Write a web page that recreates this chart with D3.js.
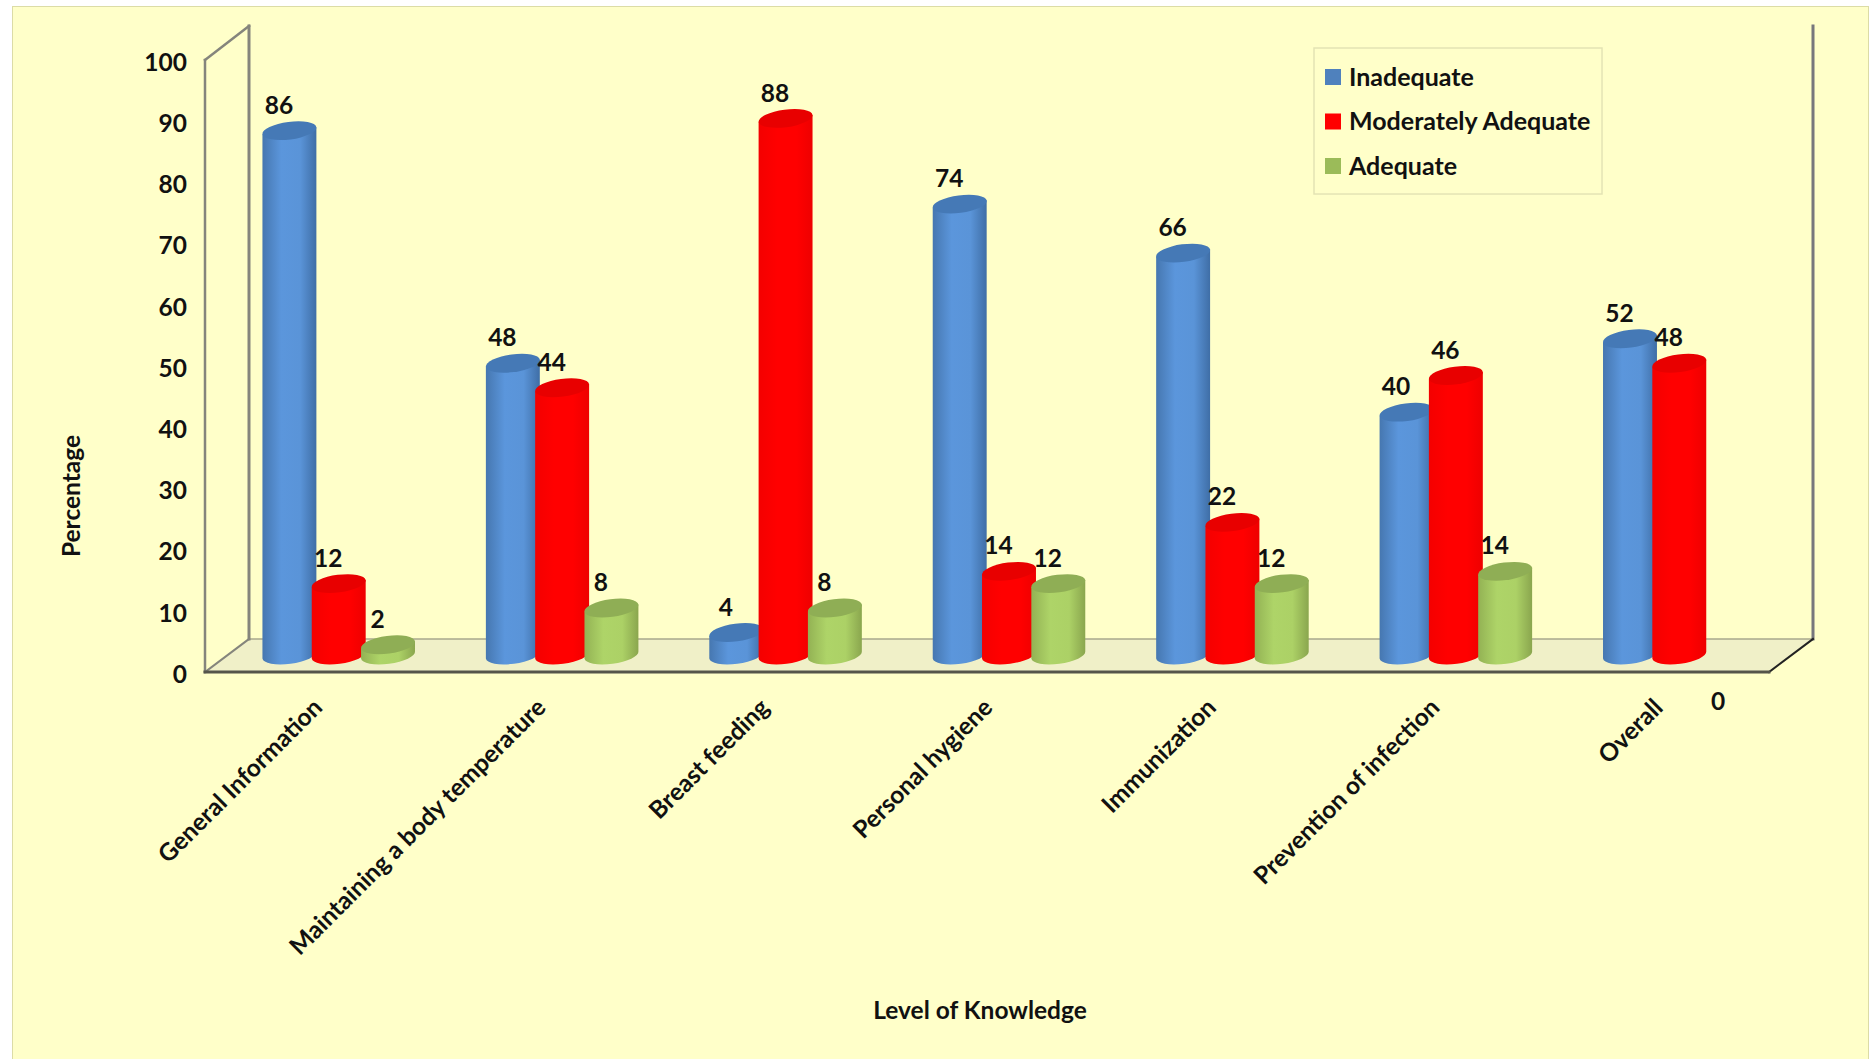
<!DOCTYPE html>
<html>
<head>
<meta charset="utf-8">
<script src="https://cdn.jsdelivr.net/npm/d3@7"></script>
<style>
  html, body { margin: 0; padding: 0; background: #fff; }
  svg { display: block; }
  text { font-family: Lato, "Open Sans", sans-serif; font-weight: 700; fill: #111; }
</style>
</head>
<body>
<svg id="chart" width="1876" height="1059"></svg>
<script>
// Knowledge level by topic, in percent
const categories = ["General Information", "Maintaining a body temperature", "Breast feeding",
                    "Personal hygiene", "Immunization", "Prevention of infection", "Overall"];
const seriesNames = ["Inadequate", "Moderately Adequate", "Adequate"];
const inadequate = [86, 48, 4, 74, 66, 40, 52];
const moderatelyAdequate = [12, 44, 88, 14, 22, 46, 48];
const adequate = [2, 8, 8, 12, 12, 14, null];
const yTicks = [0, 10, 20, 30, 40, 50, 60, 70, 80, 90, 100];
const strayLabel = "0";

const seriesValues = [inadequate, moderatelyAdequate, adequate];
const palette = [
  { id: "sideBlue",  stops: ["#4677b0", "#5b96dc", "#5a94d8", "#3f6ea6"], top: "#4579b6", key: "#4f81bd" },
  { id: "sideRed",   stops: ["#f40000", "#ff0000", "#ff0000", "#ee0000"], top: "#e80000", key: "#ff0000" },
  { id: "sideGreen", stops: ["#93b254", "#aed468", "#acd166", "#8aa64e"], top: "#8fae55", key: "#9bbb59" }
];

const svg = d3.select("#chart");

// Chart frame: a front plane and a back plane offset by the 3D depth
const front = { left: 205, right: 1769, top: 60, bottom: 672 };
const depth = { x: 44, y: 33 };
const barShift = { x: 22, top: 15, base: 17 };
const cyl = { rx: 27.2, ry: 8.8, tilt: 7.5, gap: 49.3 };
const fontSize = 24.5;

const x = d3.scaleBand().domain(categories).range([front.left, front.right]);
const y = d3.scaleLinear().domain([0, 100]).range([front.bottom, front.top]);

const defs = svg.append("defs");
palette.forEach(p => {
  const g = defs.append("linearGradient").attr("id", p.id);
  [0, 0.35, 0.7, 1].forEach((o, i) =>
    g.append("stop").attr("offset", o).attr("stop-color", p.stops[i]));
});

// Panel
svg.append("rect").attr("x", 12.5).attr("y", 6.5).attr("width", 1856).attr("height", 1060)
  .attr("fill", "#ffffc9").attr("stroke", "#dcdca6").attr("stroke-width", 1);

// Floor
const backL = front.left + depth.x, backR = front.right + depth.x;
const backB = front.bottom - depth.y, backT = front.top - depth.y - 1;
svg.append("polygon")
  .attr("points", [[front.left, front.bottom], [backL, backB], [backR, backB], [front.right, front.bottom]].join(" "))
  .attr("fill", "#f0f0c8");

const line = (x1, y1, x2, y2, color, w) =>
  svg.append("line").attr("x1", x1).attr("y1", y1).attr("x2", x2).attr("y2", y2)
    .attr("stroke", color).attr("stroke-width", w).attr("stroke-linecap", "square");

line(backL, backB, backR, backB, "#a8a88c", 1.5);
line(front.left, front.top, front.left, front.bottom, "#85857c", 2.5);
line(backL, backT, backL, backB, "#85857c", 3);
line(front.left, front.top, backL, backT, "#85857c", 2.5);
line(front.left, front.bottom, backL, backB, "#85857c", 2);
line(backR, backT, backR, backB, "#77777c", 3);
line(front.right, front.bottom, backR, backB, "#222", 2);
line(front.left, front.bottom, front.right, front.bottom, "#55554a", 3);

// Cylinders, drawn left to right so each one sits over its neighbour
const rad = cyl.tilt * Math.PI / 180;
const dx = cyl.rx * Math.cos(rad), dy = cyl.rx * Math.sin(rad);
const barCx = (cat, s) => x(cat) + x.bandwidth() / 2 + barShift.x + (s - 1) * cyl.gap;
const barTop = v => y(v) - barShift.top;

const bars = svg.append("g");
categories.forEach((cat, c) => {
  seriesValues.forEach((vals, s) => {
    const v = vals[c];
    if (v === null) return;
    const cx = barCx(cat, s), t = barTop(v), b = y(0) - barShift.base;
    bars.append("path")
      .attr("d", `M${cx - dx},${t + dy} L${cx - dx},${b + dy} ` +
                 `A${cyl.rx},${cyl.ry} ${-cyl.tilt} 0 0 ${cx + dx},${b - dy} L${cx + dx},${t - dy} Z`)
      .attr("fill", `url(#${palette[s].id})`);
    bars.append("ellipse")
      .attr("rx", cyl.rx).attr("ry", cyl.ry)
      .attr("transform", `translate(${cx},${t}) rotate(${-cyl.tilt})`)
      .attr("fill", palette[s].top);
  });
});

// Value labels
const labels = svg.append("g").attr("font-size", fontSize).attr("text-anchor", "middle");
categories.forEach((cat, c) => {
  seriesValues.forEach((vals, s) => {
    const v = vals[c];
    if (v === null) return;
    labels.append("text")
      .attr("x", barCx(cat, s) - 10.5)
      .attr("y", barTop(v) - 25.5)
      .attr("dy", "0.35em")
      .text(v);
  });
});

// Axes
const yAxis = svg.append("g").attr("transform", `translate(${front.left},0)`)
  .call(d3.axisLeft(y).tickValues(yTicks).tickSize(0).tickPadding(18));
yAxis.select(".domain").remove();
yAxis.selectAll("text").attr("font-size", fontSize).attr("dy", "0.42em")
  .style("font-family", "Lato").style("font-weight", 700);

const xAxis = svg.append("g").attr("transform", `translate(0,${front.bottom})`)
  .call(d3.axisBottom(x).tickSize(0));
xAxis.select(".domain").remove();
xAxis.selectAll("text")
  .attr("font-size", fontSize).style("font-family", "Lato").style("font-weight", 700)
  .attr("text-anchor", "end").attr("x", 0).attr("y", 0).attr("dy", "0.35em")
  .attr("transform", "translate(1,31) rotate(-45)");

svg.append("text").attr("x", 1718).attr("y", 701).attr("dy", "0.35em")
  .attr("text-anchor", "middle").attr("font-size", fontSize).text(strayLabel);

// Axis titles
svg.append("text").attr("transform", "translate(71,496) rotate(-90)")
  .attr("text-anchor", "middle").attr("dy", "0.35em").attr("font-size", fontSize).text("Percentage");
svg.append("text").attr("x", 980).attr("y", 1010).attr("dy", "0.35em")
  .attr("text-anchor", "middle").attr("font-size", fontSize).text("Level of Knowledge");

// Legend
const legend = svg.append("g");
legend.append("rect").attr("x", 1314).attr("y", 48).attr("width", 288).attr("height", 146)
  .attr("fill", "none").attr("stroke", "#e4e4b4").attr("stroke-width", 1.5);
seriesNames.forEach((name, i) => {
  const rowY = 77 + i * 44.5;
  legend.append("rect").attr("x", 1325).attr("y", rowY - 8).attr("width", 16).attr("height", 16)
    .attr("fill", palette[i].key);
  legend.append("text").attr("x", 1349).attr("y", rowY).attr("dy", "0.35em")
    .attr("font-size", 25).text(name);
});
</script>
</body>
</html>
